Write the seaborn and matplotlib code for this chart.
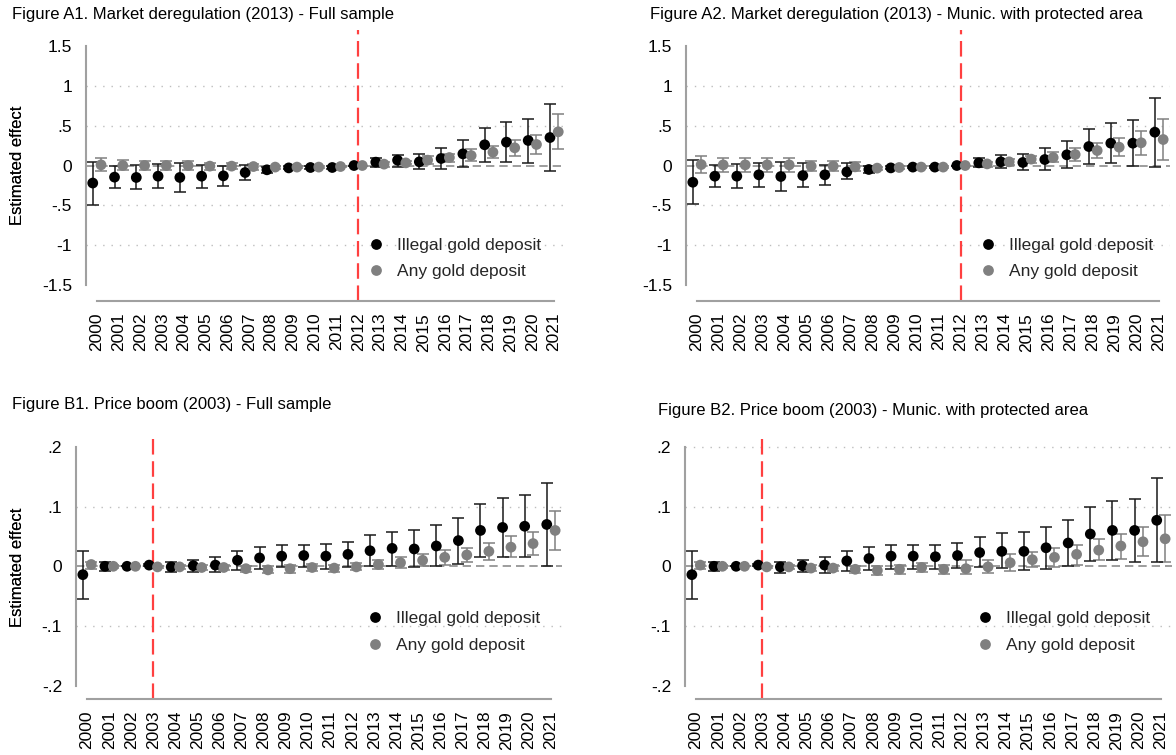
import matplotlib
matplotlib.use("Agg")
import numpy as np
import pandas as pd
import matplotlib.pyplot as plt
import seaborn as sns

years = list(range(2000, 2022))

# --- Figure A1: market deregulation, full sample
a1_ill_est = [-0.22, -0.146, -0.15, -0.134, -0.15, -0.134, -0.13, -0.088, -0.054, -0.03, -0.025, -0.025,
              0.0, 0.042, 0.067, 0.046, 0.088, 0.146, 0.26, 0.293, 0.314, 0.351]
a1_ill_lo = [-0.49, -0.28, -0.29, -0.285, -0.33, -0.285, -0.255, -0.176, -0.096, -0.05, -0.04, -0.04,
             0.0, -0.013, -0.02, -0.046, -0.04, -0.013, 0.042, 0.042, 0.033, -0.075]
a1_ill_hi = [0.04, 0.0, 0.01, 0.025, 0.03, 0.012, 0.0, 0.008, -0.013, -0.01, -0.01, -0.01,
             0.0, 0.1, 0.134, 0.146, 0.218, 0.314, 0.473, 0.552, 0.586, 0.77]
a1_any_est = [0.008, 0.0, 0.0, 0.0, 0.0, -0.008, -0.008, -0.013, -0.02, -0.02, -0.02, -0.013,
              0.0, 0.017, 0.033, 0.067, 0.1, 0.125, 0.167, 0.222, 0.264, 0.423]
a1_any_lo = [-0.067, -0.054, -0.054, -0.054, -0.058, -0.054, -0.05, -0.054, -0.04, -0.035, -0.032, -0.025,
             0.0, -0.02, 0.013, 0.02, 0.042, 0.054, 0.096, 0.125, 0.146, 0.205]
a1_any_hi = [0.088, 0.063, 0.059, 0.054, 0.054, 0.033, 0.03, 0.025, 0.0, -0.005, -0.008, 0.0,
             0.0, 0.04, 0.053, 0.113, 0.15, 0.205, 0.25, 0.326, 0.38, 0.64]

# --- Figure A2: market deregulation, municipalities with protected area
a2_ill_est = [-0.21, -0.134, -0.134, -0.117, -0.138, -0.126, -0.117, -0.08, -0.05, -0.03, -0.02, -0.02,
              0.0, 0.033, 0.046, 0.038, 0.075, 0.134, 0.238, 0.28, 0.28, 0.418]
a2_ill_lo = [-0.485, -0.27, -0.285, -0.27, -0.322, -0.27, -0.25, -0.167, -0.096, -0.05, -0.035, -0.035,
             0.0, -0.02, -0.033, -0.059, -0.054, -0.033, 0.02, 0.03, 0.0, -0.013]
a2_ill_hi = [0.07, 0.008, 0.02, 0.033, 0.042, 0.03, 0.012, 0.03, 0.0, -0.01, -0.005, -0.005,
             0.0, 0.092, 0.13, 0.146, 0.218, 0.305, 0.456, 0.536, 0.565, 0.85]
a2_any_est = [0.012, 0.008, 0.008, 0.008, 0.008, -0.008, -0.008, -0.017, -0.033, -0.025, -0.02, -0.02,
              0.0, 0.02, 0.046, 0.08, 0.1, 0.138, 0.188, 0.23, 0.285, 0.326]
a2_any_lo = [-0.092, -0.084, -0.084, -0.08, -0.076, -0.063, -0.063, -0.07, -0.053, -0.04, -0.032, -0.03,
             0.0, -0.013, 0.008, 0.033, 0.042, 0.054, 0.092, 0.117, 0.138, 0.075]
a2_any_hi = [0.117, 0.092, 0.092, 0.088, 0.088, 0.054, 0.054, 0.04, -0.013, -0.01, -0.008, -0.01,
             0.0, 0.05, 0.08, 0.125, 0.17, 0.222, 0.285, 0.343, 0.43, 0.586]

# --- Figure B1: price boom, full sample
b1_ill_est = [-0.014, 0.0, 0.0, 0.002, -0.001, 0.001, 0.002, 0.01, 0.014, 0.017, 0.018, 0.017,
              0.02, 0.026, 0.03, 0.029, 0.034, 0.043, 0.06, 0.065, 0.067, 0.07]
b1_ill_lo = [-0.054, -0.008, 0.0, 0.0, -0.01, -0.01, -0.01, -0.007, -0.004, -0.001, -0.001, -0.004,
             -0.001, 0.0, 0.0, -0.002, 0.0, 0.004, 0.015, 0.015, 0.015, 0.0]
b1_ill_hi = [0.026, 0.008, 0.0, 0.004, 0.008, 0.011, 0.015, 0.025, 0.032, 0.036, 0.036, 0.037,
             0.04, 0.052, 0.058, 0.06, 0.069, 0.081, 0.104, 0.115, 0.119, 0.14]
b1_any_est = [0.003, 0.0, 0.0, -0.001, -0.001, -0.002, -0.002, -0.004, -0.006, -0.004, -0.002, -0.003,
              -0.001, 0.003, 0.006, 0.01, 0.015, 0.019, 0.025, 0.032, 0.038, 0.06]
b1_any_lo = [-0.004, -0.003, 0.0, -0.003, -0.004, -0.006, -0.007, -0.009, -0.012, -0.011, -0.008, -0.009,
             -0.007, -0.004, -0.003, 0.0, 0.002, 0.007, 0.011, 0.016, 0.019, 0.027]
b1_any_hi = [0.007, 0.003, 0.0, 0.001, 0.002, 0.002, 0.003, 0.001, 0.001, 0.003, 0.004, 0.003,
             0.005, 0.01, 0.015, 0.02, 0.027, 0.031, 0.039, 0.05, 0.057, 0.092]

# --- Figure B2: price boom, municipalities with protected area
b2_ill_est = [-0.014, 0.0, 0.0, 0.002, -0.001, 0.001, 0.002, 0.009, 0.013, 0.017, 0.017, 0.016,
              0.018, 0.023, 0.025, 0.025, 0.031, 0.039, 0.054, 0.06, 0.06, 0.077]
b2_ill_lo = [-0.054, -0.008, 0.0, 0.0, -0.011, -0.01, -0.011, -0.008, -0.007, -0.004, -0.004, -0.004,
             -0.003, -0.002, -0.003, -0.007, -0.004, 0.0, 0.009, 0.011, 0.007, 0.007]
b2_ill_hi = [0.026, 0.008, 0.0, 0.004, 0.008, 0.011, 0.015, 0.025, 0.032, 0.036, 0.036, 0.036,
             0.039, 0.049, 0.055, 0.057, 0.066, 0.078, 0.099, 0.11, 0.113, 0.148]
b2_any_est = [0.002, 0.0, 0.0, -0.001, -0.001, -0.003, -0.003, -0.005, -0.007, -0.005, -0.002, -0.005,
              -0.004, -0.001, 0.006, 0.011, 0.015, 0.02, 0.027, 0.034, 0.041, 0.046]
b2_any_lo = [-0.005, -0.003, 0.0, -0.003, -0.004, -0.008, -0.008, -0.011, -0.015, -0.013, -0.009, -0.013,
             -0.013, -0.012, -0.008, -0.001, -0.001, 0.003, 0.01, 0.013, 0.017, 0.007]
b2_any_hi = [0.008, 0.003, 0.0, 0.001, 0.002, 0.002, 0.002, 0.001, 0.001, 0.003, 0.005, 0.003,
             0.01, 0.01, 0.021, 0.024, 0.031, 0.035, 0.045, 0.054, 0.065, 0.085]

series_names = ["Illegal gold deposit", "Any gold deposit"]
a_ticks = [-1.5, -1, -0.5, 0, 0.5, 1, 1.5]
a_ticklabels = ["-1.5", "-1", "-.5", "0", ".5", "1", "1.5"]
b_ticks = [-0.2, -0.1, 0, 0.1, 0.2]
b_ticklabels = ["-.2", "-.1", "0", ".1", ".2"]

sns.set_theme(style="white")
plt.rcParams["font.family"] = ["Liberation Sans", "DejaVu Sans"]

W, H = 1176, 755
fig = plt.figure(figsize=(W / 100, H / 100), dpi=100)

BLACK = "#000000"
GRAY = "#808080"
AXCOL = "#a0a0a0"


def px_box(left, right, top, bottom):
    return [left / W, 1 - bottom / H, (right - left) / W, (bottom - top) / H]


panels = [
    dict(title="Figure A1. Market deregulation (2013) - Full sample", tpos=(12, 14),
         box=(86, 565, 30, 301), ylim=(-1.7, 1.7), ticks=a_ticks, labels=a_ticklabels,
         grid=[-1, -0.5, 0.5, 1], vline=2012, leg=(376, 244, 273), ylab_y=165,
         ill=(a1_ill_est, a1_ill_lo, a1_ill_hi), any=(a1_any_est, a1_any_lo, a1_any_hi)),
    dict(title="Figure A2. Market deregulation (2013) - Munic. with protected area", tpos=(650, 14),
         box=(686, 1170, 30, 301), ylim=(-1.7, 1.7), ticks=a_ticks, labels=a_ticklabels,
         grid=[-1, -0.5, 0.5, 1], vline=2012, leg=(988, 244, 273), ylab_y=165,
         ill=(a2_ill_est, a2_ill_lo, a2_ill_hi), any=(a2_any_est, a2_any_lo, a2_any_hi)),
    dict(title="Figure B1. Price boom (2003) - Full sample", tpos=(12, 404),
         box=(76, 562, 433, 699), ylim=(-0.222, 0.223), ticks=b_ticks, labels=b_ticklabels,
         grid=[-0.1, 0.1], vline=2003, leg=(375, 617, 647), ylab_y=567,
         ill=(b1_ill_est, b1_ill_lo, b1_ill_hi), any=(b1_any_est, b1_any_lo, b1_any_hi)),
    dict(title="Figure B2. Price boom (2003) - Munic. with protected area", tpos=(658, 410),
         box=(685, 1172, 433, 699), ylim=(-0.222, 0.223), ticks=b_ticks, labels=b_ticklabels,
         grid=[-0.1, 0.1, 0.2], vline=2003, leg=(985, 617, 647), ylab_y=567,
         ill=(b2_ill_est, b2_ill_lo, b2_ill_hi), any=(b2_any_est, b2_any_lo, b2_any_hi)),
]

offsets = {"Illegal gold deposit": -0.19, "Any gold deposit": 0.19}
colors = {"Illegal gold deposit": BLACK, "Any gold deposit": GRAY}
bar_colors = {"Illegal gold deposit": "#1a1a1a", "Any gold deposit": GRAY}

for p in panels:
    ax = fig.add_axes(px_box(*p["box"]))
    rows = []
    for name, (est, lo, hi) in zip(series_names, [p["ill"], p["any"]]):
        for y, e, l, h in zip(years, est, lo, hi):
            rows.append(dict(year=y, x=y + offsets[name], est=e, lo=l, hi=h, series=name))
    df = pd.DataFrame(rows)

    # grid lines + zero line + event line
    for g in p["grid"]:
        ax.axhline(g, color="#bdbdbd", lw=1.0, ls=(0, (1, 5)), zorder=0)
    ax.axhline(0, color="#8c8c8c", lw=1.2, ls=(0, (5, 3)), zorder=1)
    ax.axvline(p["vline"], color="#ff4040", lw=1.6, ls=(0, (7, 3)), zorder=1)

    # confidence intervals (gray first so black sits on top)
    for name in series_names[::-1]:
        d = df[df.series == name]
        ax.errorbar(d.x, d.est, yerr=[d.est - d.lo, d.hi - d.est], fmt="none",
                    ecolor=bar_colors[name], elinewidth=1.1, capsize=4.0, capthick=1.1, zorder=2)

    sns.scatterplot(data=df, x="x", y="est", hue="series", hue_order=series_names[::-1],
                    palette=colors, s=60, edgecolor="none", linewidth=0, ax=ax, zorder=3,
                    legend=True)

    ax.set_xlim(1999.5, 2021.5)
    ax.set_ylim(*p["ylim"])
    ax.set_xticks(years)
    ax.set_xticklabels([str(y) for y in years], rotation=90)
    ax.set_yticks(p["ticks"])
    ax.set_yticklabels(p["labels"])
    ax.set_xlabel("")
    ax.set_ylabel("")
    ax.tick_params(axis="both", which="both", length=6.5, width=1.1, color=AXCOL,
                   labelsize=12.5, labelcolor="black")
    ax.tick_params(axis="y", pad=3.5)
    ax.tick_params(axis="x", pad=2)
    for side in ["top", "right"]:
        ax.spines[side].set_visible(False)
    for side in ["left", "bottom"]:
        ax.spines[side].set_color(AXCOL)
        ax.spines[side].set_linewidth(1.5)
    ax.spines["left"].set_bounds(p["ticks"][0], p["ticks"][-1])
    ax.spines["bottom"].set_bounds(2000, 2021)
    ax.patch.set_alpha(0)

    # legend in the lower right of each panel
    handles, labels = ax.get_legend_handles_labels()
    order = [labels.index(n) for n in series_names]
    mx, r1, r2 = p["leg"]
    fs_px = 12.5 * 100 / 72
    x0 = mx - 0.5 * fs_px
    ymid = (r1 + r2) / 2
    ax.legend([handles[i] for i in order], [labels[i] for i in order],
              loc="center left", bbox_to_anchor=(x0 / W, 1 - ymid / H),
              bbox_transform=fig.transFigure, frameon=False, fontsize=12.5,
              handlelength=1.0, handletextpad=0.7, labelspacing=0.67, borderpad=0,
              borderaxespad=0, markerscale=1.0)

    fig.text(p["tpos"][0] / W, 1 - p["tpos"][1] / H, p["title"], fontsize=12,
             ha="left", va="center", color="black")
    fig.text(18 / W, 1 - p["ylab_y"] / H, "Estimated effect", fontsize=12,
             rotation=90, ha="center", va="center", color="black")

fig.savefig("out.png", dpi=100)
